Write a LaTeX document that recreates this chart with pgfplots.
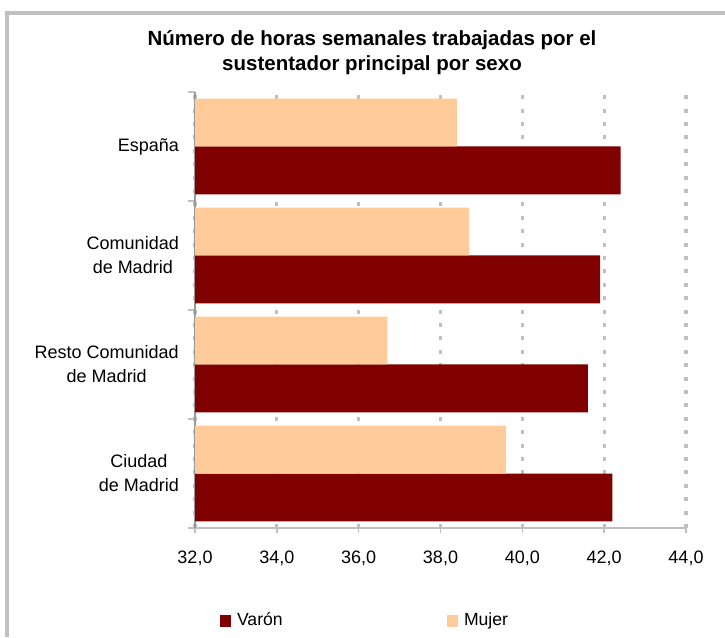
\documentclass[border=0pt]{standalone}
\usepackage{pgfplots}
\pgfplotsset{compat=1.18}
\usepackage{fontspec}
\setmainfont{Liberation Sans}
\definecolor{framegray}{HTML}{C0C0C0}
\definecolor{gridgray}{HTML}{BFBFBF}
\definecolor{varon}{HTML}{800000}
\definecolor{mujer}{HTML}{FFCC99}
\begin{document}
\begin{tikzpicture}[x=1pt,y=1pt]
\path[use as bounding box] (0,0) rectangle (725,637);
\draw[line width=4pt, color=framegray] (7,0) -- (7,624) -- (725,624);
\node[anchor=base, font=\bfseries\fontsize{20.5}{25}\selectfont, inner sep=0pt] at (372,591.3) {Número de horas semanales trabajadas por el};
\node[anchor=base, font=\bfseries\fontsize{20.5}{25}\selectfont, inner sep=0pt] at (372,566.8) {sustentador principal por sexo};
\begin{axis}[
  at={(195pt,109pt)}, anchor=south west,
  scale only axis, width=491pt, height=436pt,
  xbar, bar width=0.44,
  xmin=32, xmax=44, ymin=-0.5, ymax=3.5,
  xtick={32,34,36,38,40,42,44},
  xticklabel={\pgfmathprintnumber[fixed,fixed zerofill,precision=1,use comma,assume math mode=true]{\tick}},
  ytick={0,1,2,3},
  yticklabels={Ciudad\\de Madrid, Resto Comunidad\\de Madrid, Comunidad\\de Madrid, España},
  minor ytick={-0.5,0.5,1.5,2.5,3.5},
  axis x line*=bottom, axis y line*=left,
  x axis line style={draw=gridgray, line width=1.5pt},
  y axis line style={draw=gray!80, line width=1.2pt},
  tick align=outside,
  major tick length=5pt, minor tick length=7pt,
  major y tick style={draw=none},
  minor y tick style={draw=gridgray, line width=1.2pt},
  major x tick style={draw=gridgray, line width=1.5pt},
  xmajorgrids,
  major x grid style={draw=gridgray, line width=3.3pt, dash pattern=on 4pt off 9.4pt},
  tick label style={font=\fontsize{18}{24}\selectfont},
  yticklabel style={align=center, inner sep=0pt, xshift=-11pt},
  xticklabel style={inner sep=0pt, yshift=-18pt},
  legend columns=2,
  legend style={at={(0.05,-0.211)}, anchor=west, draw=none, fill=none, inner sep=0pt,
    font=\fontsize{17.6}{20}\selectfont,
    nodes={inner sep=0pt},
    /tikz/every odd column/.append style={column sep=5.8pt},
    /tikz/every even column/.append style={column sep=164pt}},
]
\addplot[fill=varon, draw=none, bar shift=-0.22,
  legend image code/.code={\fill[varon] (0pt,-7pt) rectangle (11.5pt,5pt);}]
  coordinates {(42.4,3) (41.9,2) (41.6,1) (42.2,0)};
\addplot[fill=mujer, draw=none, bar shift=0.22,
  legend image code/.code={\fill[mujer] (0pt,-7pt) rectangle (11.5pt,5pt);}]
  coordinates {(38.4,3) (38.7,2) (36.7,1) (39.6,0)};
\legend{Varón, Mujer}
\end{axis}
\end{tikzpicture}
\end{document}
